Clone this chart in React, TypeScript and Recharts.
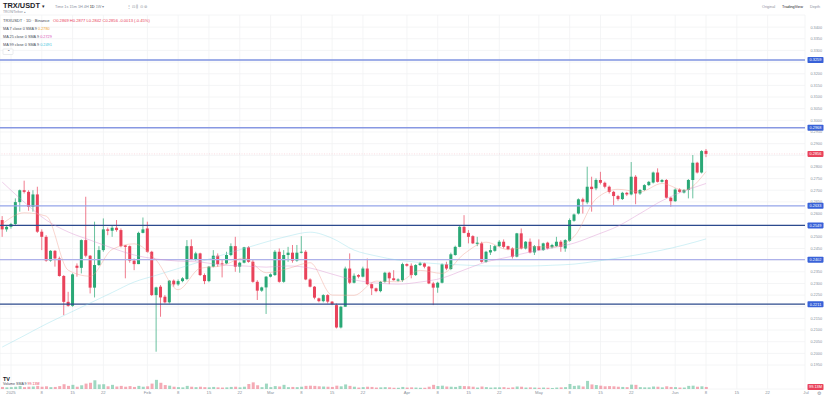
import React from "react";
import {
  ComposedChart,
  Bar,
  Line,
  XAxis,
  YAxis,
  CartesianGrid,
  ReferenceLine,
  Cell,
} from "recharts";

const FONT = "'Liberation Sans', Arial, sans-serif";
const UP = "#2aa876";
const DOWN = "#e9435b";
const GRID = "#f1f2f4";
const MUTED = "#8a919c";
const TAG_BLUE = "#3861d8";

// TRX/USDT daily candles, 2024-12-30 .. 2025-06-08
const opens = [
  0.2572, 0.2532, 0.2543, 0.2555, 0.2649, 0.27, 0.2693, 0.2629, 0.2682, 0.2522,
  0.25, 0.2398, 0.244, 0.2407, 0.2332, 0.2221, 0.2204, 0.2376, 0.2367, 0.2486,
  0.2419, 0.2282, 0.2379, 0.2443, 0.2532, 0.2526, 0.2539, 0.2529, 0.2463, 0.246,
  0.2398, 0.2383, 0.2517, 0.2536, 0.2436, 0.225, 0.2286, 0.2243, 0.2219, 0.2312,
  0.2296, 0.231, 0.2319, 0.246, 0.2404, 0.2429, 0.2336, 0.231, 0.2372, 0.2419,
  0.2386, 0.2386, 0.2422, 0.246, 0.2372, 0.2389, 0.2455, 0.2393, 0.2307, 0.2269,
  0.2283, 0.2329, 0.2336, 0.2436, 0.2307, 0.2422, 0.2432, 0.2398, 0.2432, 0.2436,
  0.2317, 0.2286, 0.2236, 0.2224, 0.225, 0.2222, 0.2207, 0.2111, 0.22, 0.2364,
  0.2303, 0.2336, 0.2329, 0.2364, 0.2297, 0.2279, 0.2267, 0.2307, 0.2346, 0.2322,
  0.2312, 0.2314, 0.2383, 0.2376, 0.2336, 0.2379, 0.2386, 0.2372, 0.23, 0.2282,
  0.2303, 0.2382, 0.2362, 0.2422, 0.2457, 0.2543, 0.2517, 0.2503, 0.247, 0.2472,
  0.2393, 0.2433, 0.244, 0.246, 0.2479, 0.246, 0.245, 0.2415, 0.2515, 0.245,
  0.2479, 0.2433, 0.246, 0.2443, 0.2475, 0.2455, 0.246, 0.2479, 0.245, 0.2483,
  0.2569, 0.26, 0.2661, 0.2648, 0.2715, 0.2708, 0.2744, 0.2732, 0.2715, 0.2693,
  0.2675, 0.2662, 0.2689, 0.2682, 0.2758, 0.2686, 0.2701, 0.2722, 0.2733, 0.2776,
  0.2736, 0.2744, 0.2668, 0.2653, 0.2703, 0.269, 0.2701, 0.2744, 0.2818, 0.2776,
  0.2869,
];
const highs = [
  0.2589, 0.255, 0.256, 0.2665, 0.2703, 0.2741, 0.27, 0.27, 0.2715, 0.2532,
  0.2507, 0.2443, 0.2443, 0.2415, 0.2336, 0.2264, 0.2343, 0.2386, 0.2489, 0.2672,
  0.2422, 0.2565, 0.246, 0.2579, 0.254, 0.2546, 0.2572, 0.2536, 0.2465, 0.2463,
  0.2407, 0.2522, 0.2583, 0.2565, 0.244, 0.2286, 0.2293, 0.225, 0.2314, 0.2317,
  0.2317, 0.2327, 0.2486, 0.2489, 0.2436, 0.2432, 0.2343, 0.2375, 0.2443, 0.2429,
  0.24, 0.2436, 0.2472, 0.25, 0.2393, 0.2457, 0.246, 0.24, 0.2314, 0.2286,
  0.2332, 0.2343, 0.2443, 0.245, 0.2443, 0.2457, 0.2465, 0.2465, 0.2503, 0.2443,
  0.2322, 0.2289, 0.2239, 0.2254, 0.2254, 0.2224, 0.2214, 0.2204, 0.2372, 0.2429,
  0.2343, 0.234, 0.2372, 0.2407, 0.23, 0.2282, 0.231, 0.235, 0.235, 0.2357,
  0.2322, 0.2389, 0.2386, 0.2386, 0.2383, 0.2393, 0.2389, 0.2375, 0.2307, 0.2307,
  0.2386, 0.2393, 0.2432, 0.2462, 0.255, 0.2593, 0.2529, 0.2507, 0.25, 0.2479,
  0.244, 0.2465, 0.2465, 0.2486, 0.2489, 0.2462, 0.2455, 0.2517, 0.2536, 0.2482,
  0.2493, 0.2465, 0.2489, 0.2475, 0.2479, 0.247, 0.25, 0.2486, 0.249, 0.2579,
  0.26, 0.2665, 0.2668, 0.2801, 0.2758, 0.2751, 0.2779, 0.2737, 0.272, 0.2697,
  0.268, 0.2693, 0.2693, 0.2821, 0.2765, 0.2705, 0.2726, 0.274, 0.278, 0.2794,
  0.2748, 0.2748, 0.2672, 0.2708, 0.2708, 0.2705, 0.2748, 0.2851, 0.2822, 0.2872,
  0.2877,
];
const lows = [
  0.25, 0.2522, 0.2535, 0.255, 0.2608, 0.2686, 0.2612, 0.2608, 0.2517, 0.2443,
  0.2393, 0.2393, 0.2372, 0.2329, 0.2164, 0.22, 0.22, 0.2329, 0.2343, 0.2412,
  0.2257, 0.224, 0.2375, 0.2436, 0.2507, 0.25, 0.2522, 0.2455, 0.2322, 0.2389,
  0.2357, 0.2383, 0.2515, 0.2432, 0.2246, 0.2007, 0.2157, 0.2214, 0.2214, 0.2286,
  0.229, 0.2305, 0.2314, 0.24, 0.2398, 0.2332, 0.2297, 0.2305, 0.2369, 0.2372,
  0.2326, 0.2383, 0.2417, 0.235, 0.2346, 0.2386, 0.2389, 0.2303, 0.2229, 0.2264,
  0.2169, 0.2326, 0.2332, 0.2303, 0.2303, 0.2393, 0.2389, 0.2393, 0.2429, 0.2314,
  0.2283, 0.2232, 0.2219, 0.2219, 0.2214, 0.2207, 0.2107, 0.2107, 0.22, 0.2297,
  0.23, 0.2322, 0.2326, 0.2293, 0.225, 0.2262, 0.2262, 0.2303, 0.2297, 0.2312,
  0.2307, 0.2307, 0.2372, 0.2322, 0.2332, 0.2375, 0.2365, 0.2297, 0.2207, 0.226,
  0.23, 0.2357, 0.2357, 0.2419, 0.2455, 0.2515, 0.2472, 0.2469, 0.246, 0.2389,
  0.2389, 0.2422, 0.2436, 0.2457, 0.245, 0.2443, 0.2407, 0.2412, 0.2446, 0.2446,
  0.2429, 0.2422, 0.244, 0.244, 0.2446, 0.245, 0.2457, 0.2436, 0.2436, 0.2479,
  0.2565, 0.2596, 0.26, 0.264, 0.2608, 0.27, 0.2725, 0.2708, 0.2686, 0.2636,
  0.2655, 0.2658, 0.2675, 0.2678, 0.264, 0.268, 0.2697, 0.2718, 0.2729, 0.2733,
  0.2733, 0.2665, 0.2629, 0.265, 0.2689, 0.2686, 0.2665, 0.2665, 0.2772, 0.2772,
  0.2842,
];
const closes = [
  0.2532, 0.2543, 0.2555, 0.2649, 0.27, 0.2693, 0.2629, 0.2682, 0.2522, 0.25,
  0.2398, 0.244, 0.2407, 0.2332, 0.2221, 0.2204, 0.2339, 0.2367, 0.2486, 0.2419,
  0.2282, 0.2379, 0.2443, 0.2532, 0.2526, 0.2539, 0.2529, 0.246, 0.2457, 0.2398,
  0.2383, 0.2517, 0.2532, 0.2436, 0.225, 0.2283, 0.224, 0.2219, 0.2312, 0.2296,
  0.231, 0.2322, 0.246, 0.2404, 0.2429, 0.2336, 0.231, 0.2372, 0.2419, 0.2383,
  0.2382, 0.2422, 0.246, 0.2372, 0.2389, 0.2455, 0.2393, 0.2307, 0.2269, 0.2283,
  0.2329, 0.2339, 0.2436, 0.2307, 0.2422, 0.2432, 0.2398, 0.2432, 0.2436, 0.2317,
  0.2286, 0.2239, 0.2224, 0.225, 0.2222, 0.2211, 0.2111, 0.22, 0.2364, 0.2303,
  0.2333, 0.2329, 0.2364, 0.2297, 0.2279, 0.2267, 0.2307, 0.2346, 0.2322, 0.2314,
  0.2317, 0.2383, 0.2376, 0.2336, 0.2379, 0.2386, 0.2372, 0.23, 0.2282, 0.2303,
  0.2382, 0.2364, 0.2425, 0.2457, 0.2543, 0.2517, 0.25, 0.2472, 0.2475, 0.2393,
  0.2436, 0.2443, 0.246, 0.2479, 0.2457, 0.2447, 0.2415, 0.2515, 0.245, 0.2479,
  0.2433, 0.246, 0.2443, 0.2472, 0.245, 0.2465, 0.2479, 0.2457, 0.2486, 0.2572,
  0.2596, 0.2661, 0.2651, 0.2715, 0.2705, 0.2744, 0.2732, 0.2715, 0.2693, 0.2675,
  0.2662, 0.2689, 0.2682, 0.2758, 0.2686, 0.2701, 0.2722, 0.2736, 0.2776, 0.2736,
  0.2744, 0.2668, 0.2653, 0.2703, 0.2693, 0.2701, 0.2744, 0.2818, 0.2776, 0.2868,
  0.2856,
];
// volume, millions of TRX
const volumes = [
  100, 80, 90, 110, 140, 90, 110, 120, 150, 110,
  130, 90, 100, 140, 230, 150, 200, 110, 180, 260,
  300, 420, 220, 230, 130, 200, 120, 150, 110, 140,
  100, 150, 110, 130, 260, 440, 300, 190, 160, 110,
  90, 80, 150, 110, 90, 110, 90, 80, 100, 80,
  70, 80, 100, 110, 80, 110, 240, 320, 180, 90,
  260, 90, 140, 120, 200, 90, 100, 90, 110, 150,
  160, 150, 130, 120, 110, 100, 160, 130, 220, 150,
  110, 70, 90, 110, 100, 70, 80, 90, 80, 60,
  60, 100, 70, 80, 70, 60, 60, 110, 200, 140,
  160, 120, 110, 100, 150, 140, 130, 110, 70, 120,
  90, 70, 80, 80, 90, 60, 80, 120, 110, 70,
  80, 70, 60, 70, 60, 50, 70, 80, 90, 240,
  150, 170, 120, 390, 220, 190, 160, 130, 140, 130,
  110, 100, 90, 210, 200, 90, 80, 80, 120, 110,
  80, 130, 100, 90, 70, 70, 150, 160, 110, 130,
  99.13,
];

// moving averages every 5th candle
const maDays = [
  0, 5, 10, 15, 20, 25, 30, 35, 40, 45, 50, 55, 60, 65, 70, 75, 80,
  85, 90, 95, 100, 105, 110, 115, 120, 125, 130, 135, 140, 145, 150, 155, 160,
];
const ma7 = [
  0.2555, 0.2603, 0.2589, 0.2357, 0.2331, 0.2446, 0.247, 0.24, 0.2273, 0.2365, 0.2376,
  0.2409, 0.2346, 0.2364, 0.2389, 0.225, 0.2249, 0.231, 0.2307, 0.2356, 0.2343, 0.2427,
  0.2477, 0.2445, 0.2457, 0.2457, 0.2501, 0.2663, 0.2704, 0.2693, 0.2729, 0.27, 0.278,
];
const ma25 = [
  0.2735, 0.2649, 0.2572, 0.2521, 0.2486, 0.2452, 0.2422, 0.2405, 0.2396, 0.2392, 0.2379,
  0.2375, 0.237, 0.2375, 0.2366, 0.234, 0.2315, 0.2302, 0.2297, 0.2306, 0.2323, 0.2358,
  0.2392, 0.2413, 0.2435, 0.2452, 0.2473, 0.2508, 0.2546, 0.26, 0.2655, 0.2696, 0.2729,
];
const ma99 = [
  0.2027, 0.2076, 0.2126, 0.2171, 0.2216, 0.2261, 0.2306, 0.2335, 0.2364, 0.2393, 0.2422,
  0.245, 0.2478, 0.2503, 0.252, 0.2494, 0.2443, 0.2418, 0.24, 0.239, 0.2383, 0.2379,
  0.2375, 0.2375, 0.2375, 0.2378, 0.2383, 0.2395, 0.2409, 0.2425, 0.2443, 0.2465, 0.2491,
];

// horizontal support / resistance levels
const levels = [0.3259, 0.2968, 0.2633, 0.2549, 0.2402, 0.2211];
const levelColors = ["#7f93e0", "#8798e2", "#95a5ea", "#2c4a8e", "#aeb2ea", "#2d4a8c"];
const levelWidths = [1.4, 1.4, 1.4, 1.2, 1.4, 1.2];

const priceTicks = [
  0.195, 0.2, 0.205, 0.21, 0.215, 0.22, 0.225, 0.23, 0.235, 0.24,
  0.245, 0.25, 0.255, 0.26, 0.265, 0.27, 0.275, 0.28, 0.285, 0.29,
  0.295, 0.3, 0.305, 0.31, 0.315, 0.32, 0.325, 0.33, 0.335, 0.34,
];

const xTickDays = [
  "2025-01-01", "2025-01-08", "2025-01-15", "2025-01-22",
  "2025-02-01", "2025-02-08", "2025-02-15", "2025-02-22",
  "2025-03-01", "2025-03-08", "2025-03-15", "2025-03-22",
  "2025-04-01", "2025-04-08", "2025-04-15", "2025-04-22",
  "2025-05-01", "2025-05-08", "2025-05-15", "2025-05-22",
  "2025-06-01", "2025-06-08", "2025-06-15", "2025-06-22",
];
const xTickLabels = [
  "2025", "8", "15", "22", "Feb", "8", "15", "22", "Mar", "8", "15", "22",
  "Apr", "8", "15", "22", "May", "8", "15", "22", "Jun", "8", "15", "22",
];

const START = Date.UTC(2024, 11, 30);
const DAY = 86400000;
const TOTAL_DAYS = 183; // candles plus the empty space to the end of June

const data = Array.from({ length: TOTAL_DAYS }, (_, i) => {
  const d = new Date(START + i * DAY).toISOString().slice(0, 10);
  if (i >= closes.length) return { d };
  const k = maDays.indexOf(i);
  return {
    d,
    o: opens[i],
    h: highs[i],
    l: lows[i],
    c: closes[i],
    range: [lows[i], highs[i]],
    v: volumes[i],
    ma7: k >= 0 ? ma7[k] : null,
    ma25: k >= 0 ? ma25[k] : null,
    ma99: k >= 0 ? ma99[k] : null,
  };
});

const last = closes.length - 1;
const tagPrices = [...levels, closes[last]];

function Candle(props: any) {
  const { x, y, width, height, payload } = props;
  if (!payload || payload.o == null) return null;
  const { o, h, l, c } = payload;
  const color = c >= o ? UP : DOWN;
  const top0 = Math.min(y, y + height);
  const hh = Math.abs(height);
  const k = h > l ? hh / (h - l) : 0;
  const top = top0 + (h - Math.max(o, c)) * k;
  const bottom = top0 + (h - Math.min(o, c)) * k;
  const cx = x + width / 2;
  return (
    <g>
      <line x1={cx} x2={cx} y1={top0} y2={top0 + hh} stroke={color} strokeWidth={0.7} />
      <rect x={cx - 1.5} y={top} width={3} height={Math.max(bottom - top, 0.8)} fill={color} />
    </g>
  );
}

function PriceTag(props: any) {
  const { viewBox, tagText, tagFill } = props;
  if (!viewBox) return null;
  const x = viewBox.x + viewBox.width + 2.5;
  const y = viewBox.y;
  return (
    <g>
      <rect x={x} y={y - 3} width={16} height={6} rx={0.8} fill={tagFill} />
      <text x={x + 8} y={y + 1.5} textAnchor="middle" fontSize={3.9} fontFamily={FONT} fill="#fff">
        {tagText}
      </text>
    </g>
  );
}

function PriceTick(props: any) {
  const { y, payload } = props;
  const v = payload.value;
  if (tagPrices.some((p) => Math.abs(p - v) < 0.0013)) return null;
  return (
    <text x={822} y={y + 1.4} fontSize={3.8} fill={MUTED} fontFamily={FONT} textAnchor="end">
      {v.toFixed(4)}
    </text>
  );
}

function Overlay() {
  const t = { fontFamily: FONT };
  return (
    <svg width={825} height={397} style={{ position: "absolute", left: 0, top: 0, pointerEvents: "none" }}>
      <text x={3} y={8.3} fontSize={7.4} fontWeight={700} fill="#1e2329" {...t}>TRX/USDT</text>
      <text x={42} y={8} fontSize={4.5} fill="#1e2329" {...t}>▾</text>
      <text x={3} y={12.8} fontSize={3.4} fill={MUTED} {...t}>TRON/Tether ▴</text>
      <text x={55} y={8} fontSize={3.8} fill={MUTED} {...t}>
        Time{"   "}1s{"   "}15m{"   "}1H{"   "}4H{"   "}
        <tspan fill="#1e2329">1D</tspan>{"   "}1W{"   "}▾
      </text>
      <text x={127} y={8} fontSize={4.4} fill={MUTED} {...t}>⋮{"   "}⊡{"   "}⫼{"   "}⊙{"   "}⊚</text>
      <text x={762} y={8} fontSize={3.8} fill={MUTED} {...t}>Original</text>
      <text x={782} y={8} fontSize={3.8} fill="#1e2329" {...t}>TradingView</text>
      <text x={810} y={8} fontSize={3.8} fill={MUTED} {...t}>Depth</text>

      <text x={3} y={22} fontSize={4.1} fill="#474d57" {...t}>TRXUSDT · 1D · Binance</text>
      <text x={53} y={22} fontSize={4.1} fill={DOWN} {...t}>
        O{opens[last].toFixed(4)} H{highs[last].toFixed(4)} L{lows[last].toFixed(4)} C{closes[last].toFixed(4)} -0.0013 (-0.45%)
      </text>
      <text x={3} y={30} fontSize={3.8} fill="#474d57" {...t}>
        MA 7 close 0 SMA 9 <tspan fill="#f0a030">{ma7[ma7.length - 1].toFixed(4)}</tspan>
      </text>
      <text x={3} y={38} fontSize={3.8} fill="#474d57" {...t}>
        MA 25 close 0 SMA 9 <tspan fill="#d64fb6">{ma25[ma25.length - 1].toFixed(4)}</tspan>
      </text>
      <text x={3} y={45.7} fontSize={3.8} fill="#474d57" {...t}>
        MA 99 close 0 SMA 9 <tspan fill="#3cc3dc">{ma99[ma99.length - 1].toFixed(4)}</tspan>
      </text>
      <rect x={3} y={49} width={10} height={5.5} fill="#fff" stroke="#d5d8dc" strokeWidth={0.5} rx={0.6} />
      <text x={8} y={53.3} fontSize={4} fill="#474d57" textAnchor="middle" {...t}>⌃</text>

      <text x={3} y={381} fontSize={5.5} fontWeight={700} fill="#131722" {...t}>TV</text>
      <text x={3} y={385.3} fontSize={3.6} fill="#474d57" {...t}>
        Volume SMA 9 <tspan fill={DOWN}>{volumes[last].toFixed(2)}M</tspan>
      </text>

      <text x={806} y={394} fontSize={4.2} fill={MUTED} textAnchor="middle" {...t}>Jul</text>
      <text x={819} y={394.5} fontSize={5} fill={MUTED} textAnchor="middle" {...t}>⚙</text>
    </svg>
  );
}

export default function App() {
  return (
    <div style={{ position: "absolute", left: 0, top: 0, width: 825, height: 397, background: "#fff" }}>
      <ComposedChart
        width={825}
        height={397}
        data={data}
        margin={{ top: 15, right: 0, bottom: 0, left: 0 }}
        barCategoryGap="15%"
      >
        <CartesianGrid xAxisId="main" yAxisId="price" stroke={GRID} strokeWidth={0.8} />
        <XAxis
          xAxisId="main"
          dataKey="d"
          ticks={xTickDays}
          interval={0}
          tickFormatter={(v: string) => xTickLabels[xTickDays.indexOf(v)] ?? ""}
          tickLine={false}
          axisLine={false}
          tickSize={0}
          height={8}
          tickMargin={2}
          tick={{ fontSize: 4.2, fill: MUTED, fontFamily: FONT }}
        />
        <XAxis xAxisId="vol" dataKey="d" hide />
        <YAxis
          yAxisId="price"
          orientation="right"
          width={20}
          domain={[0.1847, 0.3452]}
          allowDataOverflow
          ticks={priceTicks}
          interval={0}
          tickLine={false}
          axisLine={false}
          tick={<PriceTick />}
        />
        <YAxis yAxisId="vol" hide domain={[0, 18000]} allowDataOverflow />

        <Bar xAxisId="vol" yAxisId="vol" dataKey="v" barSize={3} isAnimationActive={false}>
          {data.map((d: any, i) => (
            <Cell key={i} fill={d.c >= d.o ? UP : DOWN} fillOpacity={0.45} />
          ))}
        </Bar>

        {levels.map((lv, i) => (
          <ReferenceLine
            key={lv}
            xAxisId="main"
            yAxisId="price"
            y={lv}
            stroke={levelColors[i]}
            strokeWidth={levelWidths[i]}
            label={<PriceTag tagText={lv.toFixed(4)} tagFill={TAG_BLUE} />}
          />
        ))}
        <ReferenceLine
          xAxisId="main"
          yAxisId="price"
          y={closes[last]}
          stroke={DOWN}
          strokeOpacity={0.3}
          strokeDasharray="1 1.5"
          strokeWidth={0.6}
          label={<PriceTag tagText={closes[last].toFixed(4)} tagFill={DOWN} />}
        />
        <ReferenceLine
          xAxisId="main"
          yAxisId="vol"
          y={volumes[last]}
          stroke="none"
          label={<PriceTag tagText={`${volumes[last].toFixed(2)}M`} tagFill={DOWN} />}
        />

        <Line xAxisId="main" yAxisId="price" dataKey="ma99" stroke="#8adbe8" strokeOpacity={0.55} strokeWidth={0.7} dot={false} connectNulls type="monotone" isAnimationActive={false} />
        <Line xAxisId="main" yAxisId="price" dataKey="ma25" stroke="#d98bcd" strokeOpacity={0.6} strokeWidth={0.7} dot={false} connectNulls type="monotone" isAnimationActive={false} />
        <Line xAxisId="main" yAxisId="price" dataKey="ma7" stroke="#f09a8c" strokeOpacity={0.6} strokeWidth={0.7} dot={false} connectNulls type="monotone" isAnimationActive={false} />

        <Bar xAxisId="main" yAxisId="price" dataKey="range" shape={<Candle />} isAnimationActive={false} />
      </ComposedChart>
      <Overlay />
    </div>
  );
}
